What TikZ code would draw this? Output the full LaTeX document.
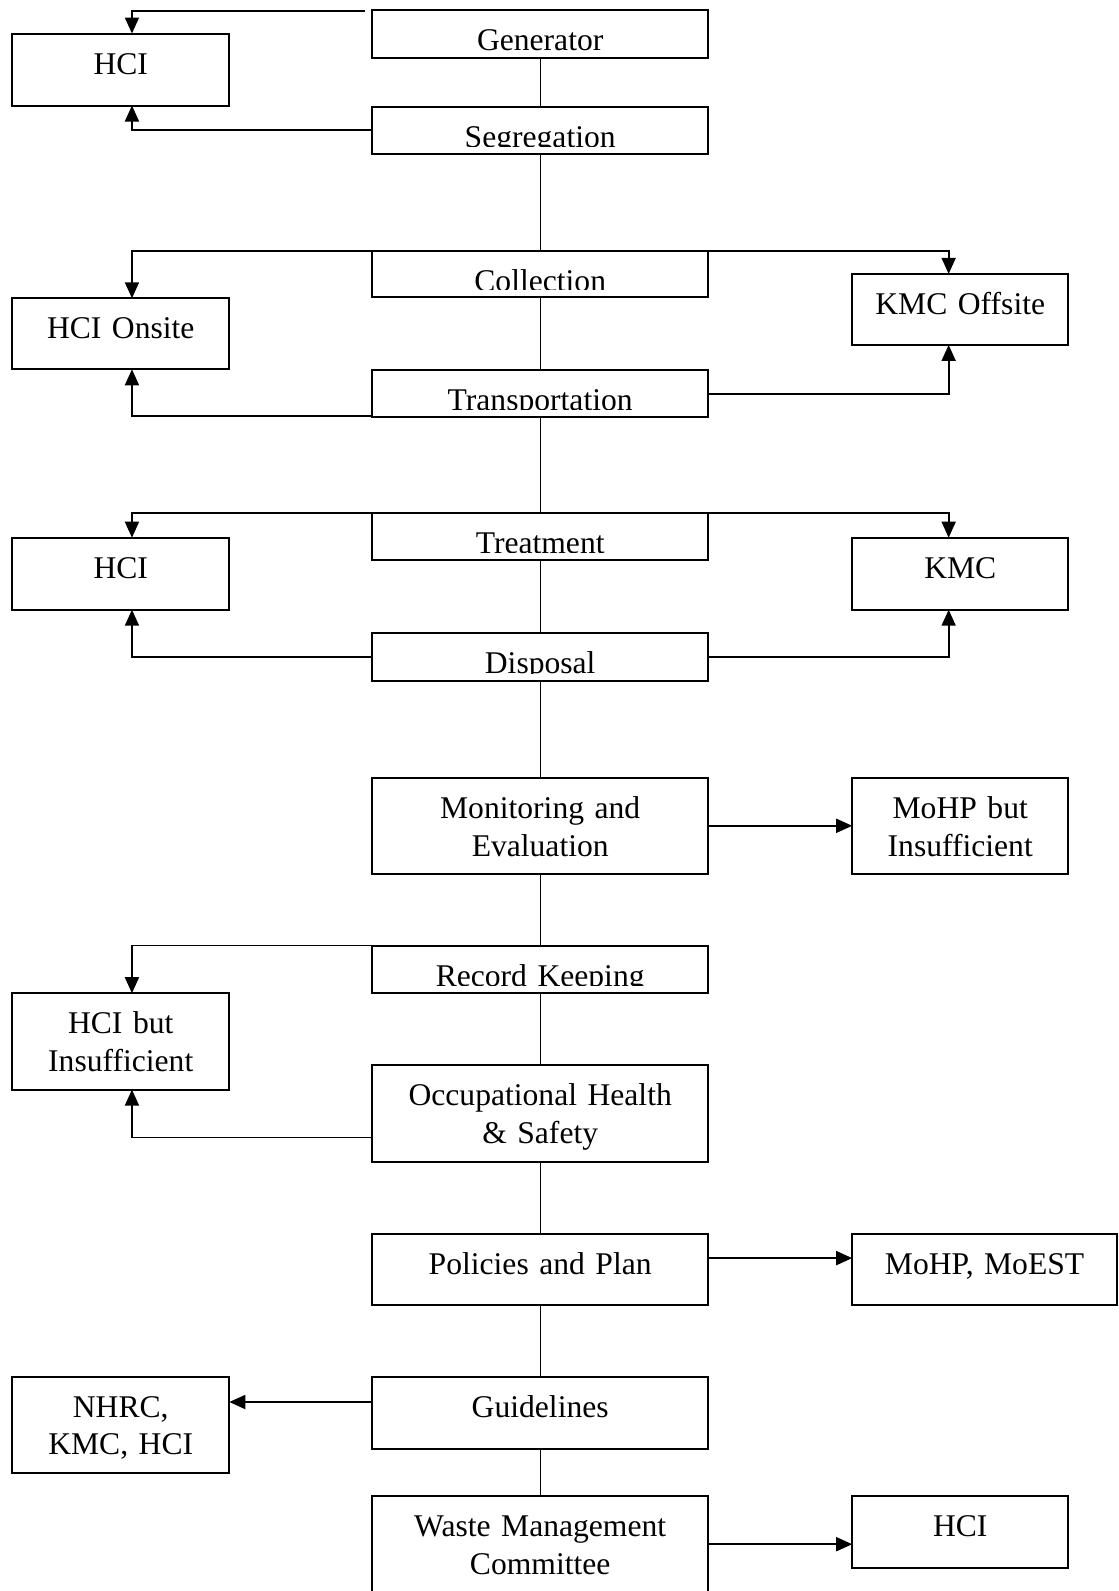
\documentclass[tikz,border=0pt]{standalone}
\usepackage{fontspec}
\setmainfont{Liberation Serif}
\usetikzlibrary{arrows.meta,fit}
\tikzset{
  box/.style={draw, line width=1pt, inner sep=0pt, outer sep=0pt},
  txt/.style={font=\fontsize{15.8}{18.75}\selectfont, inner sep=0pt, align=center, anchor=base},
  link/.style={line width=0.7pt},
  arr/.style={line width=0.9pt, -{Triangle[length=8pt,width=7pt]}},
}
\newcommand\flowbox[6]{%
  \node[box, fit={(#2,#3) (#4,#5)}, path picture={%
    \clip (path picture bounding box.north west) rectangle ([yshift=3.75pt]path picture bounding box.south east);
    \node[txt] (#1-t) at ([yshift=-20.25pt]path picture bounding box.north) {#6};}] (#1) {};}
\begin{document}
\begin{tikzpicture}[x=0.5pt,y=-0.5pt]
\useasboundingbox (0,0) rectangle (1119,1591);
\flowbox{gen}{372.3}{10.1}{708.1}{57.8}{Generator}
\flowbox{hci1}{12.2}{33.5}{229.3}{105.5}{HCI}
\flowbox{seg}{372.3}{106.5}{708.1}{154.2}{Segregation}
\flowbox{col}{372.3}{250.6}{708.1}{297.2}{Collection}
\flowbox{hcion}{12.2}{298.3}{229.3}{369.3}{HCI Onsite}
\flowbox{kmcoff}{852.2}{273.9}{1068.3}{344.9}{KMC Offsite}
\flowbox{tra}{372.3}{370.3}{708.1}{417}{Transportation}
\flowbox{tre}{372.3}{513.3}{708.1}{560}{Treatment}
\flowbox{hci2}{12.2}{537.7}{229.3}{609.7}{HCI}
\flowbox{kmc}{852.2}{537.7}{1068.3}{609.7}{KMC}
\flowbox{dis}{372.3}{633}{708.1}{680.7}{Disposal}
\flowbox{mon}{372.3}{778.1}{708.1}{873.5}{Monitoring and\\Evaluation}
\flowbox{mohp}{852.2}{778.1}{1068.3}{873.5}{MoHP but\\Insufficient}
\flowbox{rec}{372.3}{945.5}{708.1}{993.2}{Record Keeping}
\flowbox{hcibi}{12.2}{993.2}{229.3}{1089.6}{HCI but\\Insufficient}
\flowbox{ohs}{372.3}{1065.2}{708.1}{1161.6}{Occupational Health\\\& Safety}
\flowbox{pol}{372.3}{1233.6}{708.1}{1304.6}{Policies and Plan}
\flowbox{moest}{852.2}{1233.6}{1117}{1304.6}{MoHP, MoEST}
\flowbox{gui}{372.3}{1376.7}{708.1}{1448.7}{Guidelines}
\flowbox{nhrc}{12.2}{1376.7}{229.3}{1473}{NHRC,\\KMC, HCI}
\flowbox{wmc}{372.3}{1496.4}{708.1}{1592}{Waste Management\\Committee}
\flowbox{hci3}{852.2}{1496.4}{1068.3}{1568.4}{HCI}

% vertical spine
\draw[link] (gen.south) -- (seg.north);
\draw[link] (seg.south) -- (col.north);
\draw[link] (col.south) -- (tra.north);
\draw[link] (tra.south) -- (tre.north);
\draw[link] (tre.south) -- (dis.north);
\draw[link] (dis.south) -- (mon.north);
\draw[link] (mon.south) -- (rec.north);
\draw[link] (rec.south) -- (ohs.north);
\draw[link] (ohs.south) -- (pol.north);
\draw[link] (pol.south) -- (gui.north);
\draw[link] (gui.south) -- (wmc.north);

% side arrows
\coordinate (g0) at ([xshift=-3.5pt,yshift=-0.5pt]gen.north west);
\draw[arr] (g0) -| ([xshift=5.6pt]hci1.north);
\draw[arr] (seg.west) -| ([xshift=5.6pt]hci1.south);
\draw[arr] (col.north west) -| ([xshift=5.6pt]hcion.north);
\draw[arr] (col.north east) -| ([xshift=-5.8pt]kmcoff.north);
\draw[arr] ([yshift=0.5pt]tra.south west) -| ([xshift=5.6pt]hcion.south);
\draw[arr] (tra.east) -| ([xshift=-5.8pt]kmcoff.south);
\draw[arr] (tre.north west) -| ([xshift=5.6pt]hci2.north);
\draw[arr] (tre.north east) -| ([xshift=-5.8pt]kmc.north);
\draw[arr] (dis.west) -| ([xshift=5.6pt]hci2.south);
\draw[arr] (dis.east) -| ([xshift=-5.8pt]kmc.south);
\draw[arr] (mon.east) -- (mohp.west);
\draw[arr] (rec.north west) -| ([xshift=5.6pt]hcibi.north);
\coordinate (o0) at ([yshift=-12pt]ohs.west);
\draw[arr] (o0) -| ([xshift=5.6pt]hcibi.south);
\coordinate (p0) at ([yshift=5.5pt]pol.east);
\draw[arr] (p0) -- (p0 -| moest.west);
\coordinate (q0) at ([yshift=5.35pt]gui.west);
\draw[arr] (q0) -- (q0 -| nhrc.east);
\draw[arr] (wmc.east) -- (wmc.east -| hci3.west);
\end{tikzpicture}
\end{document}
